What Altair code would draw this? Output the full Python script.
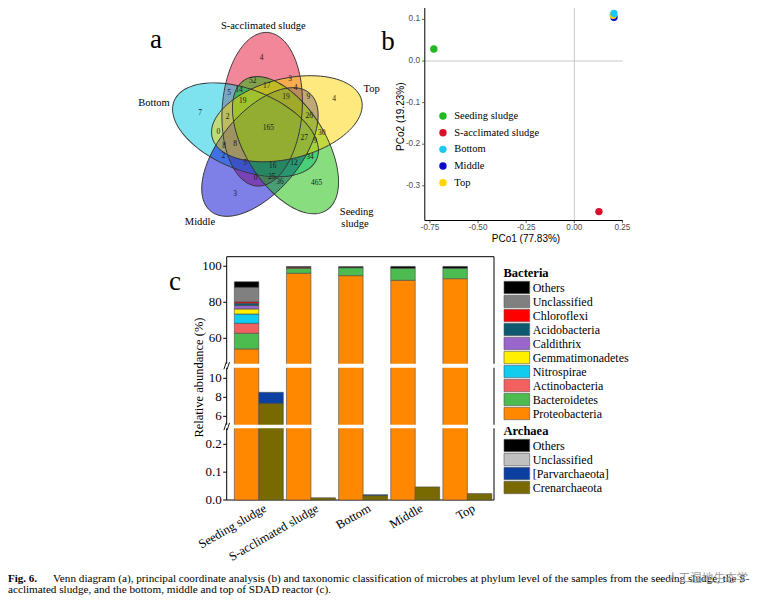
import altair as alt
import numpy as np
import pandas as pd

# ---------------- data ----------------
venn_sets = ["S-acclimated sludge", "Top", "Bottom", "Middle", "Seeding sludge"]
venn_counts = [4, 52, 3, 5, 14, 17, 4, 9, 19, 19, 4, 7, 2, 26, 165, 0, 30, 27, 9,
               8, 8, 2, 34, 5, 16, 12, 0, 25, 36, 465, 3]

pcoa_samples = ["Seeding sludge", "S-acclimated sludge", "Bottom", "Middle", "Top"]
pco1 = [-0.730, 0.128, 0.206, 0.206, 0.202]
pco2 = [0.029, -0.362, 0.114, 0.105, 0.110]
pcoa_xticks = [-0.75, -0.50, -0.25, 0.00, 0.25]
pcoa_yticks = [-0.3, -0.2, -0.1, 0.0, 0.1]

samples = ["Seeding sludge", "S-acclimated sludge", "Bottom", "Middle", "Top"]
bacteria_phyla = ["Proteobacteria", "Bacteroidetes", "Actinobacteria", "Nitrospirae",
                  "Gemmatimonadetes", "Caldithrix", "Acidobacteria", "Chloroflexi",
                  "Unclassified", "Others"]
seeding_bacteria = [54.1, 8.7, 5.5, 5.2, 2.8, 1.9, 1.3, 0.8, 8.0, 3.1]
sacclimated_bacteria = [96.1, 2.8, 0.0, 0.0, 0.0, 0.0, 0.0, 0.5, 0.0, 0.4]
bottom_bacteria = [94.8, 4.4, 0.0, 0.0, 0.0, 0.0, 0.0, 0.0, 0.0, 0.6]
middle_bacteria = [92.2, 6.7, 0.0, 0.0, 0.0, 0.0, 0.0, 0.0, 0.0, 1.0]
top_bacteria = [93.1, 5.8, 0.0, 0.0, 0.0, 0.0, 0.0, 0.0, 0.0, 1.0]

archaea_phyla = ["Crenarchaeota", "[Parvarchaeota]", "Unclassified", "Others"]
seeding_archaea = [7.37, 1.16, 0.0, 0.0]
sacclimated_archaea = [0.008, 0.0, 0.0, 0.0]
bottom_archaea = [0.016, 0.003, 0.0, 0.0]
middle_archaea = [0.047, 0.0, 0.0, 0.0]
top_archaea = [0.023, 0.0, 0.0, 0.0]
bar_yticks = [0, 0.1, 0.2, 6, 8, 10, 60, 80, 100]

caption_bold = "Fig. 6."
caption_line1 = ("Venn diagram (a), principal coordinate analysis (b) and taxonomic classification "
                 "of microbes at phylum level of the samples from the seeding sludge, the S-")
caption_line2 = "acclimated sludge, and the bottom, middle and top of SDAD reactor (c)."
watermark = "人工湿地生态学"

# ---------------- styles / layout ----------------
W, H = 747, 588
SERIF = "Liberation Serif"
SANS = "Liberation Sans"

venn_fill = ["#E50F35", "#FDD300", "#00C7DF", "#0000D1", "#11BB00"]
venn_opacity = 0.5
venn_draw_rank = [0, 4, 1, 2, 3]
pcoa_colors = ["#22B822", "#D7102C", "#1FC8EE", "#0A0AC8", "#FFD500"]
bacteria_colors = {"Others": "#000000", "Unclassified": "#808080", "Chloroflexi": "#FF0000",
                   "Acidobacteria": "#0D5A70", "Caldithrix": "#9966CC",
                   "Gemmatimonadetes": "#FFF000", "Nitrospirae": "#11CCEE",
                   "Actinobacteria": "#F26060", "Bacteroidetes": "#4CBB50",
                   "Proteobacteria": "#FF8800"}
archaea_colors = {"Others": "#000000", "Unclassified": "#C0C0C0",
                  "[Parvarchaeota]": "#0B3FA0", "Crenarchaeota": "#786A00"}

# Venn layout (local px units around the Venn centre, y up)
VENN_CX, VENN_CY, VENN_HALF = 260, 123, 130
ELL_A, ELL_B, ELL_R = 77, 40, 22.5
ELL_CENTER_ANG = [105, 33, 177, 249, 321]
ELL_AXIS_OFF = -19
count_xy = [(-6.3, 72.7), (-15.3, 50.3), (22, 52), (-39, 37.7), (-29, 41), (-1.3, 45),
            (27.7, 43.3), (40.3, 33.7), (-25.3, 30), (18, 34.3), (66, 32), (-68, 18.3),
            (-40.3, 13.7), (41.3, 15), (0.3, 2.7), (-49.7, -0.7), (53.7, -1.7), (36.3, -6.7),
            (47, -9.7), (-44, -14.7), (-33, -13), (-44.7, -24.7), (42, -26.3), (-23, -32.3),
            (4.7, -34.7), (26, -32.3), (-12.3, -46.7), (3.7, -45.7), (12, -50.7), (48.7, -51.7),
            (-33, -63)]
set_label_xy = [("S-acclimated sludge", -4.7, 105), ("Top", 103.7, 41.7), ("Bottom", -114, 27.7),
                ("Middle", -68, -90.7), ("Seeding", 88.7, -80.7), ("sludge", 87, -93)]

t = np.linspace(0, 2 * np.pi, 97)[:-1]
ELL_PATH = "M" + "L".join(f"{np.cos(a):.4f},{(ELL_B / ELL_A) * np.sin(a):.4f}" for a in t) + "Z"
ELL_SIZE = (2 * ELL_A) ** 2

ell_rows = []
for s, ca, k in zip(venn_sets, ELL_CENTER_ANG, venn_draw_rank):
    r = np.radians(ca)
    ell_rows.append({"set": s, "x": ELL_R * np.cos(r), "y": ELL_R * np.sin(r),
                     "ang": (360 - (ca + ELL_AXIS_OFF)) % 360, "k": k})
ell_df = pd.DataFrame(ell_rows)
count_df = pd.DataFrame({"n": [str(c) for c in venn_counts],
                         "x": [p[0] for p in count_xy], "y": [p[1] for p in count_xy]})
setlab_df = pd.DataFrame(set_label_xy, columns=["label", "x", "y"])

vx = alt.X("x:Q", scale=alt.Scale(domain=[-VENN_HALF, VENN_HALF],
                                  range=[VENN_CX - VENN_HALF, VENN_CX + VENN_HALF],
                                  nice=False, zero=False), axis=None)
vy = alt.Y("y:Q", scale=alt.Scale(domain=[-VENN_HALF, VENN_HALF],
                                  range=[VENN_CY + VENN_HALF, VENN_CY - VENN_HALF],
                                  nice=False, zero=False), axis=None)

ell_fill = alt.Chart(ell_df).mark_point(shape=ELL_PATH, filled=True, size=ELL_SIZE,
                                        opacity=venn_opacity, strokeWidth=0).encode(
    x=vx, y=vy, angle=alt.Angle("ang:Q", scale=None),
    fill=alt.Fill("set:N", scale=alt.Scale(domain=venn_sets, range=venn_fill), legend=None),
    order=alt.Order("k:Q"))
ell_line = alt.Chart(ell_df).mark_point(shape=ELL_PATH, filled=False, size=ELL_SIZE,
                                        opacity=1, strokeWidth=0.9, color="#333333").encode(
    x=vx, y=vy, angle=alt.Angle("ang:Q", scale=None))
counts = alt.Chart(count_df).mark_text(font=SERIF, fontSize=7.5, color="#1a1a1a").encode(
    x=vx, y=vy, text="n:N")
setlabels = alt.Chart(setlab_df).mark_text(font=SERIF, fontSize=10.5, color="#000").encode(
    x=vx, y=vy, text="label:N")
venn = alt.layer(ell_fill, ell_line, counts, setlabels)

# ---------------- PCoA ----------------
PX_DOM, PX_RANGE = [-0.777, 0.252], [416.8, 614.8]
PY_DOM, PY_RANGE = [-0.3834, 0.1274], [212.5, 0]
pscx = alt.Scale(domain=PX_DOM, range=PX_RANGE, nice=False, zero=False)
pscy = alt.Scale(domain=PY_DOM, range=PY_RANGE, nice=False, zero=False)
pcoa_df = pd.DataFrame({"sample": pcoa_samples, "pco1": pco1, "pco2": pco2,
                        "k": [0, 1, 4, 2, 3]})
one = alt.Data(values=[{}])
pxt = pd.DataFrame({"v": pcoa_xticks, "lab": [f"{v:.2f}" for v in pcoa_xticks]})
pyt = pd.DataFrame({"v": pcoa_yticks, "lab": [f"{v:.1f}" for v in pcoa_yticks]})

zero_v = alt.Chart(one).mark_rule(color="#c8c8c8", strokeWidth=1).encode(
    x=alt.XDatum(0, scale=pscx, axis=None),
    y=alt.YDatum(PY_DOM[0], scale=pscy, axis=None), y2=alt.Y2Datum(PY_DOM[1]))
zero_h = alt.Chart(one).mark_rule(color="#c8c8c8", strokeWidth=1).encode(
    y=alt.YDatum(0, scale=pscy, axis=None),
    x=alt.XDatum(PX_DOM[0], scale=pscx, axis=None), x2=alt.X2Datum(PX_DOM[1]))
p_xline = alt.Chart(one).mark_rule(color="#000", strokeWidth=1).encode(
    y=alt.YDatum(PY_DOM[0], scale=pscy, axis=None),
    x=alt.XDatum(PX_DOM[0], scale=pscx, axis=None), x2=alt.X2Datum(PX_DOM[1]))
p_yline = alt.Chart(one).mark_rule(color="#000", strokeWidth=1).encode(
    x=alt.XDatum(PX_DOM[0], scale=pscx, axis=None),
    y=alt.YDatum(PY_DOM[0], scale=pscy, axis=None), y2=alt.Y2Datum(PY_DOM[1]))
p_xticks = alt.Chart(pxt).mark_rule(color="#333", strokeWidth=0.8).encode(
    x=alt.X("v:Q", scale=pscx, axis=None), y=alt.value(PY_RANGE[0]), y2=alt.value(PY_RANGE[0] + 2.7))
p_xlabels = alt.Chart(pxt).mark_text(font=SANS, fontSize=8.2, color="#4d4d4d", baseline="top").encode(
    x=alt.X("v:Q", scale=pscx, axis=None), y=alt.value(PY_RANGE[0] + 3.8), text="lab:N")
p_yticks = alt.Chart(pyt).mark_rule(color="#333", strokeWidth=0.8).encode(
    y=alt.Y("v:Q", scale=pscy, axis=None), x=alt.value(PX_RANGE[0] - 2.7), x2=alt.value(PX_RANGE[0]))
p_ylabels = alt.Chart(pyt).mark_text(font=SANS, fontSize=8.2, color="#4d4d4d", align="right",
                                     baseline="middle").encode(
    y=alt.Y("v:Q", scale=pscy, axis=None), x=alt.value(PX_RANGE[0] - 4.8), text="lab:N")
pts = alt.Chart(pcoa_df).mark_circle(size=55, opacity=1).encode(
    x=alt.X("pco1:Q", scale=pscx, axis=None),
    y=alt.Y("pco2:Q", scale=pscy, axis=None),
    color=alt.Color("sample:N", scale=alt.Scale(domain=pcoa_samples, range=pcoa_colors),
                    legend=alt.Legend(title=None, orient="none", direction="vertical",
                                      legendX=429.7, legendY=102.8, symbolType="circle",
                                      symbolSize=55, symbolStrokeWidth=0, labelFont=SERIF,
                                      labelFontSize=10.5, labelOffset=6, rowPadding=5.65,
                                      padding=0)),
    order=alt.Order("k:Q"))
pcoa = alt.layer(zero_v, zero_h, p_xline, p_yline, p_xticks, p_xlabels, p_yticks, p_ylabels, pts)

# ---------------- stacked bars with broken axis ----------------
BX_RANGE = [218.7, 486]
BY_DOM = [0, 0.2576, 5.12, 11.12, 45.9, 105.3]
BY_RANGE = [492, 420.3, 416.7, 359.7, 355.7, 248.7]
bsx = alt.Scale(domain=samples, range=BX_RANGE, paddingInner=0.061, paddingOuter=0.094, align=0.78)
bsy = alt.Scale(domain=BY_DOM, range=BY_RANGE, nice=False, zero=False)
bso = alt.Scale(domain=["Bacteria", "Archaea"], paddingInner=0, paddingOuter=0)

bact_rows, arch_rows = [], []
for s, bv, av in zip(samples,
                     [seeding_bacteria, sacclimated_bacteria, bottom_bacteria, middle_bacteria, top_bacteria],
                     [seeding_archaea, sacclimated_archaea, bottom_archaea, middle_archaea, top_archaea]):
    for rk, (p, v) in enumerate(zip(bacteria_phyla, bv)):
        bact_rows.append({"sample": s, "phylum": p, "value": v, "rank": rk, "grp": "Bacteria"})
    for rk, (p, v) in enumerate(zip(archaea_phyla, av)):
        arch_rows.append({"sample": s, "phylum": p, "value": v, "rank": rk, "grp": "Archaea"})
bact_df = pd.DataFrame(bact_rows)
arch_df = pd.DataFrame(arch_rows)

RECT_PATH = "M-1,-1.03H3.28V1.03H-1Z"


def legend(title, y):
    return alt.Legend(title=title, orient="none", direction="vertical", legendX=495.5, legendY=y,
                      symbolType=RECT_PATH, symbolSize=144, symbolStrokeColor="#555",
                      symbolStrokeWidth=0.6, symbolOpacity=1, labelFont=SERIF, labelFontSize=12,
                      labelColor="#000", labelOffset=16.2, rowPadding=-1, titleFont=SERIF,
                      titleFontSize=12.5, titleFontWeight="bold", titleColor="#000",
                      titlePadding=2, padding=0)


def bars(df, phyla, colors, title, ly):
    return alt.Chart(df).transform_filter("datum.value > 0").transform_stack(
        stack="value", as_=["y0", "y1"], groupby=["sample"],
        sort=[alt.SortField("rank", order="ascending")]).mark_bar(
        stroke="#4a4a4a", strokeWidth=0.6).encode(
        x=alt.X("sample:N", scale=bsx, axis=None),
        xOffset=alt.XOffset("grp:N", scale=bso),
        y=alt.Y("y0:Q", scale=bsy, axis=None),
        y2="y1:Q",
        color=alt.Color("phylum:N", scale=alt.Scale(domain=phyla[::-1],
                                                    range=[colors[p] for p in phyla[::-1]]),
                        legend=legend(title, ly)))


bact = bars(bact_df, bacteria_phyla, bacteria_colors, "Bacteria", 258.5)
arch = bars(arch_df, archaea_phyla, archaea_colors, "Archaea", 416.5)

gap_df = pd.DataFrame({"lo": [BY_DOM[1], BY_DOM[3]], "hi": [BY_DOM[2], BY_DOM[4]]})
gap_df["mid"] = (gap_df["lo"] + gap_df["hi"]) / 2
gaps = alt.Chart(gap_df).mark_rect(color="white").encode(
    y=alt.Y("lo:Q", scale=bsy, axis=None), y2="hi:Q",
    x=alt.value(BX_RANGE[0] - 3), x2=alt.value(BX_RANGE[1] + 2))
BREAK_PATH = "M-0.7,0.9L-0.1,-0.9M0.1,0.9L0.7,-0.9"
breaks = alt.Chart(gap_df).mark_point(shape=BREAK_PATH, filled=False, size=64, opacity=1,
                                      color="#000", strokeWidth=0.9).encode(
    y=alt.Y("mid:Q", scale=bsy, axis=None), x=alt.value(BX_RANGE[0]))
frame_df = pd.DataFrame({"lo": [0.0], "hi": [BY_DOM[-1]]})
frame_top = alt.Chart(frame_df).mark_rule(color="#000", strokeWidth=1).encode(
    y=alt.Y("hi:Q", scale=bsy, axis=None), x=alt.value(BX_RANGE[0]), x2=alt.value(BX_RANGE[1]))
frame_right = alt.Chart(frame_df).mark_rule(color="#000", strokeWidth=1).encode(
    y=alt.Y("lo:Q", scale=bsy, axis=None), y2="hi:Q", x=alt.value(BX_RANGE[1]))
frame_left = alt.Chart(frame_df).mark_rule(color="#000", strokeWidth=1).encode(
    y=alt.Y("lo:Q", scale=bsy, axis=None), y2="hi:Q", x=alt.value(BX_RANGE[0]))
frame_bottom = alt.Chart(frame_df).mark_rule(color="#000", strokeWidth=1).encode(
    y=alt.Y("lo:Q", scale=bsy, axis=None), x=alt.value(BX_RANGE[0]), x2=alt.value(BX_RANGE[1]))

byt = pd.DataFrame({"v": bar_yticks,
                    "lab": [f"{v:.1f}" if v < 1 else f"{v:d}" for v in bar_yticks]})
b_yticks = alt.Chart(byt).mark_rule(color="#000", strokeWidth=1).encode(
    y=alt.Y("v:Q", scale=bsy, axis=None), x=alt.value(BX_RANGE[0] - 3.5), x2=alt.value(BX_RANGE[0]))
b_ylabels = alt.Chart(byt).mark_text(font=SERIF, fontSize=13, color="#000", align="right",
                                     baseline="middle").encode(
    y=alt.Y("v:Q", scale=bsy, axis=None), x=alt.value(BX_RANGE[0] - 5), text="lab:N")
bxl = pd.DataFrame({"sample": samples})
b_xlabels = alt.Chart(bxl).mark_text(font=SERIF, fontSize=12.5, color="#000", align="right",
                                     baseline="top", angle=330, dx=4).encode(
    x=alt.X("sample:N", scale=bsx, axis=None), y=alt.value(BY_RANGE[0] + 4), text="sample:N")

barpanel = alt.layer(frame_top, frame_right, frame_left, frame_bottom, bact, arch, gaps, breaks,
                     b_yticks, b_ylabels, b_xlabels).resolve_scale(color="independent")

# ---------------- texts ----------------
def txt(s, x, y, size, weight="normal", font=SERIF, color="#000", align="left", angle=0,
        baseline="alphabetic"):
    return alt.Chart(one).mark_text(text=s, font=font, fontSize=size, fontWeight=weight,
                                    color=color, align=align, baseline=baseline,
                                    angle=angle).encode(
        x=alt.value(x), y=alt.value(y))


texts = [
    txt("PCo1 (77.83%)", 518, 231, 10, font=SANS, align="center", baseline="middle"),
    txt("PCo2 (19.23%)", 392.7, 108.7, 10, font=SANS, align="center", baseline="middle", angle=270),
    txt("Relative abundance (%)", 191.3, 369.5, 12.5, align="center", baseline="middle", angle=270),
    txt("a", 148, 40, 27, align="center"),
    txt("b", 380, 42, 27, align="center"),
    txt("c", 167, 282, 27, align="center"),
    txt(caption_bold, 0, 574.3, 11, weight="bold"),
    txt(caption_line1, 45, 574.3, 11.2),
    txt(caption_line2, 0, 584.7, 11.2),
    txt(watermark, 659, 574, 11.6, font="Noto Sans CJK SC", color="#a0a0a0"),
]

chart = alt.layer(venn, pcoa, barpanel, *texts).resolve_scale(
    x="independent", y="independent", color="independent", fill="independent"
).properties(width=W, height=H, padding=0,
             autosize=alt.AutoSizeParams(type="none")).configure_view(stroke=None)

chart.save("out.html", embed_options={"renderer": "svg", "actions": False})
